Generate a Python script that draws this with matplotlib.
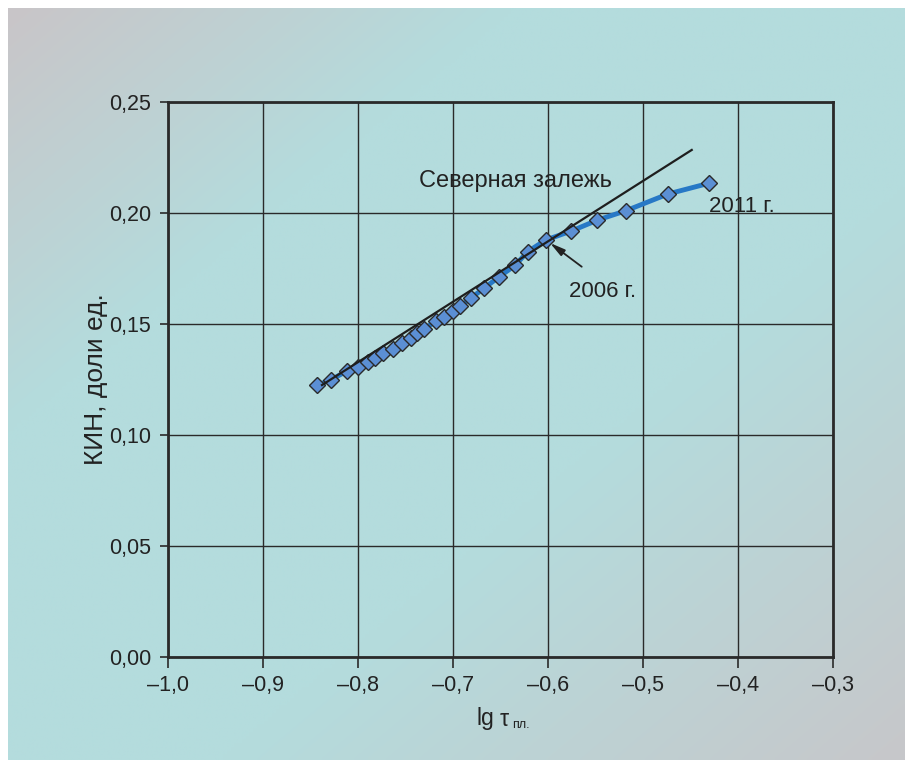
import numpy as np
import matplotlib
matplotlib.use("Agg")
import matplotlib.pyplot as plt
from matplotlib.ticker import FixedLocator, FuncFormatter

plt.rcParams['font.family'] = ['Liberation Sans', 'DejaVu Sans']

# Data
lg_tau = [-0.8428, -0.8287, -0.8119, -0.8003, -0.7898, -0.7821, -0.7734, -0.7635,
          -0.7540, -0.7442, -0.7382, -0.7302, -0.7182, -0.7092, -0.6997, -0.6926,
          -0.6811, -0.6674, -0.6513, -0.6347, -0.6213, -0.6026, -0.5753, -0.5479,
          -0.5182, -0.4734, -0.4305]
kin = [0.1225, 0.1248, 0.1288, 0.1308, 0.1327, 0.1345, 0.1368, 0.1387,
       0.1413, 0.1436, 0.1458, 0.1477, 0.1513, 0.1533, 0.1558, 0.1579,
       0.1617, 0.1661, 0.1713, 0.1764, 0.1826, 0.1878, 0.1919, 0.1968,
       0.2010, 0.2086, 0.2134]
trend_x = [-0.8379, -0.4487]
trend_y = [0.1225, 0.2284]
x_ticks = [-1.0, -0.9, -0.8, -0.7, -0.6, -0.5, -0.4, -0.3]
y_ticks = [0.00, 0.05, 0.10, 0.15, 0.20, 0.25]

W, H = 905, 760
fig = plt.figure(figsize=(W / 100, H / 100), dpi=100)
fig.patch.set_facecolor('white')

# gradient background
bg = fig.add_axes([8 / W, 0, 1 - 8 / W, 1 - 8 / H], zorder=-5)
ny, nx = 200, 240
u = np.linspace(0, 1, nx)[None, :]
v = np.linspace(0, 1, ny)[:, None]
t = (u + v) / 2
gray1 = np.array([201, 197, 200]) / 255
gray2 = np.array([199, 199, 202]) / 255
cyan = np.array([180, 220, 221]) / 255
w1 = np.clip((0.28 - t) / 0.28, 0, 1)[..., None]
w2 = np.clip((t - 0.62) / 0.38, 0, 1)[..., None]
img = cyan * (1 - w1 - w2) + gray1 * w1 + gray2 * w2
bg.imshow(img, aspect='auto', extent=[0, 1, 1, 0], interpolation='bilinear')
bg.set_axis_off()

ax = fig.add_axes([168 / W, 1 - 657 / H, (833 - 168) / W, (657 - 102) / H])
ax.set_facecolor('none')
ax.set_xlim(-1.0, -0.3)
ax.set_ylim(0.0, 0.25)

ax.xaxis.set_major_locator(FixedLocator(x_ticks))
ax.yaxis.set_major_locator(FixedLocator(y_ticks))
ax.xaxis.set_major_formatter(FuncFormatter(lambda val, p: f"{val:.1f}".replace('-', '\u2013').replace('.', ',')))
ax.yaxis.set_major_formatter(FuncFormatter(lambda val, p: f"{val:.2f}".replace('.', ',')))
ax.grid(True, color='#2a2a2a', linewidth=1.0)
ax.set_axisbelow(True)
for s in ax.spines.values():
    s.set_linewidth(2.0)
    s.set_color('#2a2a2a')
ax.tick_params(axis='x', direction='out', length=8, width=1.2, color='#2a2a2a',
               labelsize=15.5, labelcolor='#222222', pad=5)
ax.tick_params(axis='y', direction='out', length=6, width=1.2, color='#2a2a2a',
               labelsize=15.5, labelcolor='#222222', pad=6)

ax.plot(lg_tau, kin, color='#2778c6', linewidth=3.5, marker='D', markersize=8.5,
        markerfacecolor='#5b8fd4', markeredgecolor='#2a2a2a', markeredgewidth=1.0, zorder=3)
ax.plot(trend_x, trend_y, color='#1e1e1e', linewidth=1.6, zorder=4)

ax.text(-0.6347, 0.2144, 'Северная залежь', fontsize=17, color='#222222', ha='center', va='center')
ax.text(-0.3955, 0.2031, '2011 г.', fontsize=16, color='#222222', ha='center', va='center')
ax.text(-0.5421, 0.1645, '2006 г.', fontsize=16, color='#222222', ha='center', va='center')
ax.annotate('', xy=(-0.5979, 0.1865), xytext=(-0.5645, 0.1758),
            arrowprops=dict(arrowstyle='-|>,head_length=0.9,head_width=0.22', color='#222222',
                            lw=1.3, shrinkA=0, shrinkB=0))

ax.set_ylabel('КИН, доли ед.', fontsize=19, color='#222222', labelpad=1)
fig.text(476 / W, 1 - 718 / H, 'lg', fontsize=16.5, color='#222222', ha='left', va='center')
fig.text(500 / W, 1 - 719 / H, 'τ', fontsize=16.5, color='#222222', ha='left', va='center')
fig.text(512 / W, 1 - 725 / H, 'пл.', fontsize=9, color='#222222', ha='left', va='center')

fig.savefig('out.png', dpi=100, facecolor=fig.get_facecolor())
